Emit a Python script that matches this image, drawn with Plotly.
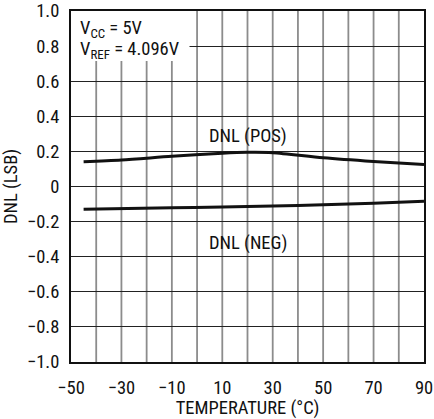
import plotly.graph_objects as go

temp_pos = [-45, -30, -10, 10, 20, 30, 50, 70, 90]
dnl_pos = [0.141, 0.151, 0.172, 0.19, 0.195, 0.193, 0.164, 0.143, 0.126]
temp_neg = [-45, -10, 10, 30, 50, 70, 90]
dnl_neg = [-0.130, -0.121, -0.117, -0.111, -0.104, -0.096, -0.084]

x_ticks = [-50, -30, -10, 10, 30, 50, 70, 90]
y_ticks = [-1.0, -0.8, -0.6, -0.4, -0.2, 0, 0.2, 0.4, 0.6, 0.8, 1.0]
y_labels = ["\u22121.0", "\u22120.8", "\u22120.6", "\u22120.4", "\u22120.2", "0",
            "0.2", "0.4", "0.6", "0.8", "1.0"]
x_labels = ["\u221250", "\u221230", "\u221210", "10", "30", "50", "70", "90"]

FONT = "Roboto Condensed, Liberation Sans Narrow, Arial Narrow, Liberation Sans, sans-serif"
FS = 18.5

fig = go.Figure()

# vertical grid lines every 10 (gray, drawn below)
for xv in range(-40, 90, 10):
    fig.add_shape(type="line", xref="x", yref="y", x0=xv, x1=xv, y0=-1, y1=1,
                  line=dict(color="#8c8c8c", width=1.8), layer="below")

fig.add_trace(go.Scatter(x=temp_pos, y=dnl_pos, mode="lines",
                         line=dict(color="#111", width=3, shape="spline", smoothing=0.8), showlegend=False))
fig.add_trace(go.Scatter(x=temp_neg, y=dnl_neg, mode="lines",
                         line=dict(color="#111", width=3, shape="spline", smoothing=0.8), showlegend=False))

# white box behind conditions text
fig.add_shape(type="rect", xref="x", yref="y", x0=-50, x1=-3, y0=0.715, y1=1.0,
              fillcolor="white", line=dict(width=0), layer="between")

fig.add_annotation(x=-47.4, y=0.90, xref="x", yref="y", xanchor="left", yanchor="middle",
                   text="V<sub>CC</sub> = 5V", showarrow=False, font=dict(size=FS, color="#111", family=FONT))
fig.add_annotation(x=-47.4, y=0.775, xref="x", yref="y", xanchor="left", yanchor="middle",
                   text="V<sub>REF</sub> = 4.096V", showarrow=False, font=dict(size=FS, color="#111", family=FONT))
fig.add_annotation(x=20, y=0.29, xref="x", yref="y", text="DNL (POS)", showarrow=False,
                   font=dict(size=FS, color="#111", family=FONT))
fig.add_annotation(x=20, y=-0.32, xref="x", yref="y", text="DNL (NEG)", showarrow=False,
                   font=dict(size=FS, color="#111", family=FONT))

fig.update_xaxes(range=[-50, 90], tickvals=x_ticks, ticktext=x_labels,
                 showgrid=False, zeroline=False, showline=True, linecolor="#111", linewidth=2,
                 mirror=True, ticks="outside", ticklen=8, tickcolor="rgba(0,0,0,0)",
                 automargin=False,
                 title=dict(text="TEMPERATURE (°C)", standoff=2,
                            font=dict(size=FS, family=FONT, color="#111")),
                 tickfont=dict(size=FS, family=FONT, color="#111"))
fig.update_yaxes(range=[-1.0, 1.0], tickvals=y_ticks, ticktext=y_labels,
                 showgrid=True, gridcolor="#222", gridwidth=1, zeroline=False,
                 showline=True, linecolor="#111", linewidth=2, mirror=True,
                 ticks="outside", ticklen=6, tickcolor="rgba(0,0,0,0)",
                 automargin=False, layer="above traces",
                 title=dict(text="DNL (LSB)", standoff=4, font=dict(size=FS, family=FONT, color="#111")),
                 tickfont=dict(size=FS, family=FONT, color="#111"))

fig.update_layout(width=434, height=419, margin=dict(l=71, r=10, t=11, b=57),
                  plot_bgcolor="white", paper_bgcolor="white",
                  font=dict(family=FONT, color="#111"))

fig.write_html("out.html", config={"displayModeBar": False},
               post_script="document.body.style.margin='0';document.body.style.overflow='hidden';")
